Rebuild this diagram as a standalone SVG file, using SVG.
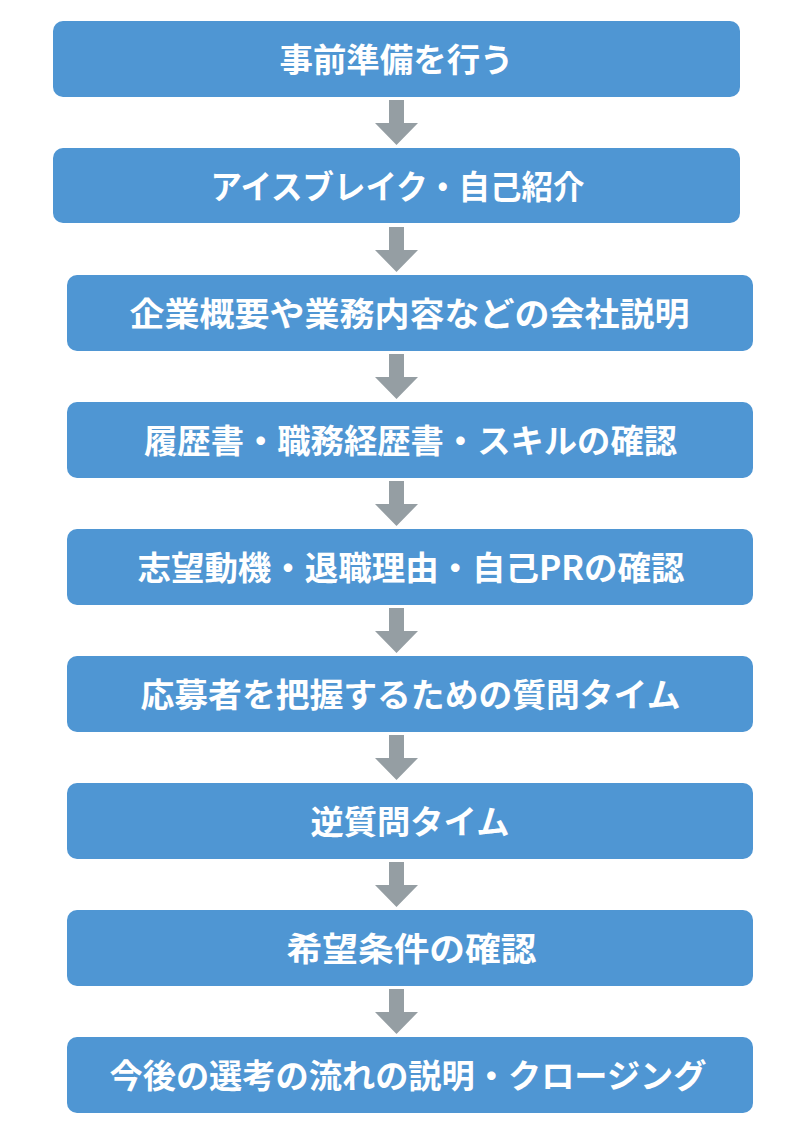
<svg xmlns="http://www.w3.org/2000/svg" xmlns:xlink="http://www.w3.org/1999/xlink" width="793" height="1121" viewBox="0 0 793 1121">
<style>
.box{fill:#4F96D3;}
.lbl{fill:#FFFFFF;font-family:"Noto Sans CJK JP","Noto Sans",sans-serif;font-weight:700;font-size:33px;text-anchor:middle;dominant-baseline:central;}
.arr{fill:#959EA3;}
</style>
<defs>
<path id="arrow" class="arr" d="M-7.5,0 H7.5 V23 H21.5 L0,45 L-21.5,23 H-7.5 Z"/>
</defs>
<rect x="0" y="0" width="793" height="1121" fill="#FFFFFF"/>
<g id="connectors">
<use xlink:href="#arrow" href="#arrow" x="396.5" y="100"/>
<use xlink:href="#arrow" href="#arrow" x="396.5" y="227"/>
<use xlink:href="#arrow" href="#arrow" x="396.5" y="354"/>
<use xlink:href="#arrow" href="#arrow" x="396.5" y="481"/>
<use xlink:href="#arrow" href="#arrow" x="396.5" y="608"/>
<use xlink:href="#arrow" href="#arrow" x="396.5" y="735"/>
<use xlink:href="#arrow" href="#arrow" x="396.5" y="862"/>
<use xlink:href="#arrow" href="#arrow" x="396.5" y="989"/>
</g>
<g id="node1">
<rect class="box" x="53" y="21" width="687" height="76" rx="10"/>
<text class="lbl" x="396.5" y="58" textLength="234" lengthAdjust="spacingAndGlyphs">事前準備を行う</text>
</g>
<g id="node2">
<rect class="box" x="53" y="148" width="687" height="75" rx="10"/>
<text class="lbl" x="397.5" y="185" textLength="374" lengthAdjust="spacingAndGlyphs">アイスブレイク・自己紹介</text>
</g>
<g id="node3">
<rect class="box" x="67" y="275" width="686" height="76" rx="10"/>
<text class="lbl" x="409.5" y="312" textLength="560" lengthAdjust="spacingAndGlyphs">企業概要や業務内容などの会社説明</text>
</g>
<g id="node4">
<rect class="box" x="67" y="402" width="686" height="76" rx="10"/>
<text class="lbl" x="410.5" y="439" textLength="533" lengthAdjust="spacingAndGlyphs">履歴書・職務経歴書・スキルの確認</text>
</g>
<g id="node5">
<rect class="box" x="67" y="529" width="686" height="76" rx="10"/>
<text class="lbl" x="411" y="566" textLength="547" lengthAdjust="spacingAndGlyphs">志望動機・退職理由・自己PRの確認</text>
</g>
<g id="node6">
<rect class="box" x="67" y="656" width="686" height="76" rx="10"/>
<text class="lbl" x="410.5" y="693" textLength="540" lengthAdjust="spacingAndGlyphs">応募者を把握するための質問タイム</text>
</g>
<g id="node7">
<rect class="box" x="67" y="783" width="686" height="76" rx="10"/>
<text class="lbl" x="410" y="820" textLength="199" lengthAdjust="spacingAndGlyphs">逆質問タイム</text>
</g>
<g id="node8">
<rect class="box" x="67" y="910" width="686" height="76" rx="10"/>
<text class="lbl" x="411.5" y="947" textLength="250" lengthAdjust="spacingAndGlyphs">希望条件の確認</text>
</g>
<g id="node9">
<rect class="box" x="67" y="1037" width="686" height="76" rx="10"/>
<text class="lbl" x="408" y="1074" textLength="597" lengthAdjust="spacingAndGlyphs">今後の選考の流れの説明・クロージング</text>
</g>
</svg>
